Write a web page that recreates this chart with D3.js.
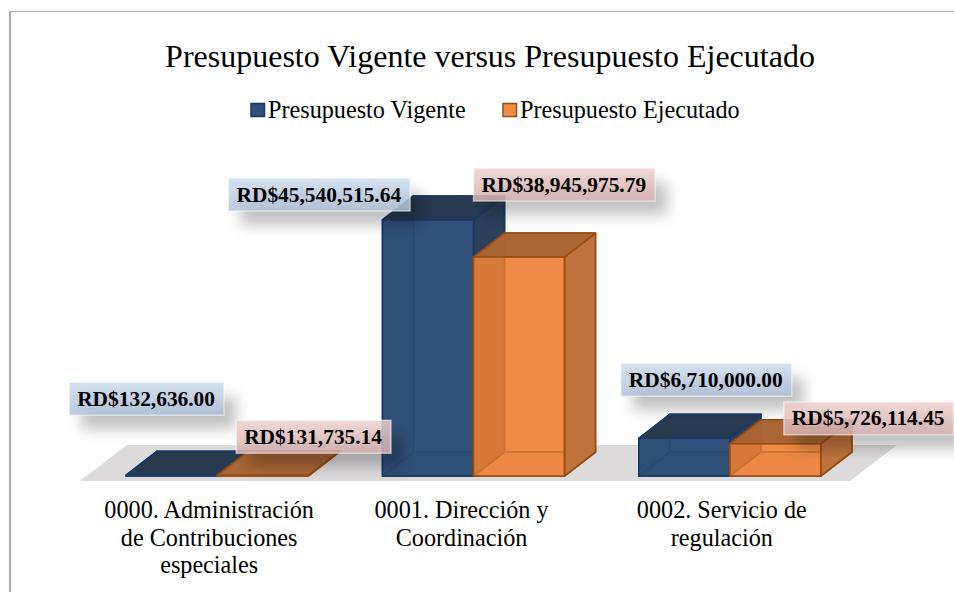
<!DOCTYPE html>
<html><head><meta charset="utf-8">
<script src="https://cdn.jsdelivr.net/npm/d3@7"></script>
<style>html,body{margin:0;padding:0;background:#fff}svg{display:block}text{font-family:"Liberation Serif",serif;fill:#000}</style>
</head><body><div id="chart"></div>
<script>
const chartTitle = "Presupuesto Vigente versus Presupuesto Ejecutado";
const seriesNames = ["Presupuesto Vigente", "Presupuesto Ejecutado"];
const categoryLines = [
  ["0000. Administración", "de Contribuciones", "especiales"],
  ["0001. Dirección y", "Coordinación"],
  ["0002. Servicio de", "regulación"]
];
const vigente = [132636.00, 45540515.64, 6710000.00];
const ejecutado = [131735.14, 38945975.79, 5726114.45];

const W = 954, H = 592, DX = 31, DY = -24, BASE = 476;
const svg = d3.select("#chart").append("svg").attr("width", W).attr("height", H);
const defs = svg.append("defs");
const grad = (id, a, b) => {
  const g = defs.append("linearGradient").attr("id", id).attr("x1", 0).attr("y1", 0).attr("x2", 0).attr("y2", 1);
  g.append("stop").attr("offset", 0).attr("stop-color", a);
  g.append("stop").attr("offset", 1).attr("stop-color", b);
};
grad("lb", "#cddcee", "#b0c2d9");
grad("lp", "#efd0d0", "#d8b2b2");
defs.append("filter").attr("id", "blur").attr("x", "-30%").attr("y", "-80%").attr("width", "160%").attr("height", "260%")
  .append("feGaussianBlur").attr("stdDeviation", 7);

svg.append("rect").attr("x", 10).attr("y", 11.5).attr("width", W).attr("height", H)
  .attr("fill", "#fff").attr("stroke", "#ababab").attr("stroke-width", 1);
svg.append("rect").attr("x", 9).attr("y", 11).attr("width", 2).attr("height", H).attr("fill", "#ababab");

svg.append("text").attr("x", 490).attr("y", 67).attr("text-anchor", "middle").attr("font-size", 32).text(chartTitle);

const x0 = d3.scaleBand().domain(d3.range(3)).range([89, 858]).paddingInner(0.29).paddingOuter(0.145);
const x1 = d3.scaleBand().domain([0, 1]).range([0, x0.bandwidth()]);
const y = d3.scaleLinear().domain([0, 45540515.64]).range([BASE, 220]);

// floor
const floor = [[80, 481], [127, 445], [897, 445], [850, 481]];
svg.append("path").attr("d", d3.line()(floor) + "Z").attr("fill", "#dcdada");

const palettes = [
  {front: "#32517a", back: "#32517a", left: "#2d4b70", top: "#28394f", side: "#2c405a", bottom: "#2e4c72", edge: "#173a66", op: 0.68},
  {front: "#ef8c48", back: "#ee8a45", left: "#b85c20", top: "#a86535", side: "#bc723c", bottom: "#e8823c", edge: "#964d14", op: 0.6}
];
const line = d3.line();
const barsData = [];
[vigente, ejecutado].forEach((vals, s) => vals.forEach((v, c) => barsData.push({s, c, v})));

barsData.forEach(d => {
  const p = palettes[d.s];
  const xl = x0(d.c) + x1(d.s), xr = xl + x1.bandwidth(), yt = y(d.v), yb = BASE;
  const g = svg.append("g").attr("class", "bar");
  const face = (pts, fill, op) => g.append("path").attr("d", line(pts) + "Z").attr("fill", fill).attr("fill-opacity", op)
    .attr("stroke", p.edge).attr("stroke-width", 1.6).attr("stroke-linejoin", "round");
  face([[xl+DX, yb+DY],[xr+DX, yb+DY],[xr+DX, yt+DY],[xl+DX, yt+DY]], p.back, 1);
  face([[xl, yb],[xr, yb],[xr+DX, yb+DY],[xl+DX, yb+DY]], p.bottom, 1);
  face([[xl, yb],[xl+DX, yb+DY],[xl+DX, yt+DY],[xl, yt]], p.left, 1);
  face([[xr, yb],[xr+DX, yb+DY],[xr+DX, yt+DY],[xr, yt]], p.side, 0.96);
  face([[xl, yt],[xr, yt],[xr+DX, yt+DY],[xl+DX, yt+DY]], p.top, 0.96);
  face([[xl, yb],[xr, yb],[xr, yt],[xl, yt]], p.front, p.op);
});

// category labels
const catShift = [-8, -12, -8];
categoryLines.forEach((lines, c) => {
  const cx = x0(c) + x0.bandwidth() / 2 + catShift[c];
  lines.forEach((t, i) => svg.append("text").attr("x", cx).attr("y", 518 + i * 27.5)
    .attr("text-anchor", "middle").attr("font-size", 24.2).text(t));
});

// legend
const legendX = [251, 503], legendTextX = [268, 520];
seriesNames.forEach((n, i) => {
  svg.append("rect").attr("x", legendX[i]).attr("y", 103.5).attr("width", 13.5).attr("height", 13)
    .attr("fill", palettes[i].front).attr("stroke", palettes[i].edge).attr("stroke-width", 1.5);
  svg.append("text").attr("x", legendTextX[i]).attr("y", 118).attr("font-size", 24.2).text(n);
});

// data labels (offsets from each bar's front top-left corner)
const placeLeft = [[-57, -93], [19, -55], [-154, -42], [0, -89], [-18, -75], [54, -42]];
const fmt = d3.format(",.2f");
barsData.slice().sort((a, b) => a.c - b.c || a.s - b.s).forEach((d, i) => {
  const off = placeLeft[i];
  const lx = x0(d.c) + x1(d.s) + off[0], ly = y(d.v) + off[1];
  const g = svg.append("g");
  const t = g.append("text").attr("x", lx + 8).attr("y", ly + 23.5).attr("font-size", 21.4).attr("font-weight", "bold")
    .text("RD$" + fmt(d.v));
  const w = t.node().getComputedTextLength() + 17, h = 33;
  g.insert("rect", "text").attr("x", lx + 12).attr("y", ly + 14).attr("width", w).attr("height", h)
    .attr("fill", "#000").attr("fill-opacity", 0.24).attr("filter", "url(#blur)");
  g.insert("rect", "text").attr("x", lx).attr("y", ly).attr("width", w).attr("height", h)
    .attr("fill", d.s === 0 ? "url(#lb)" : "url(#lp)").attr("fill-opacity", 0.85)
    .attr("stroke", "#fff").attr("stroke-opacity", 0.5).attr("stroke-width", 1.5);
});
</script></body></html>
